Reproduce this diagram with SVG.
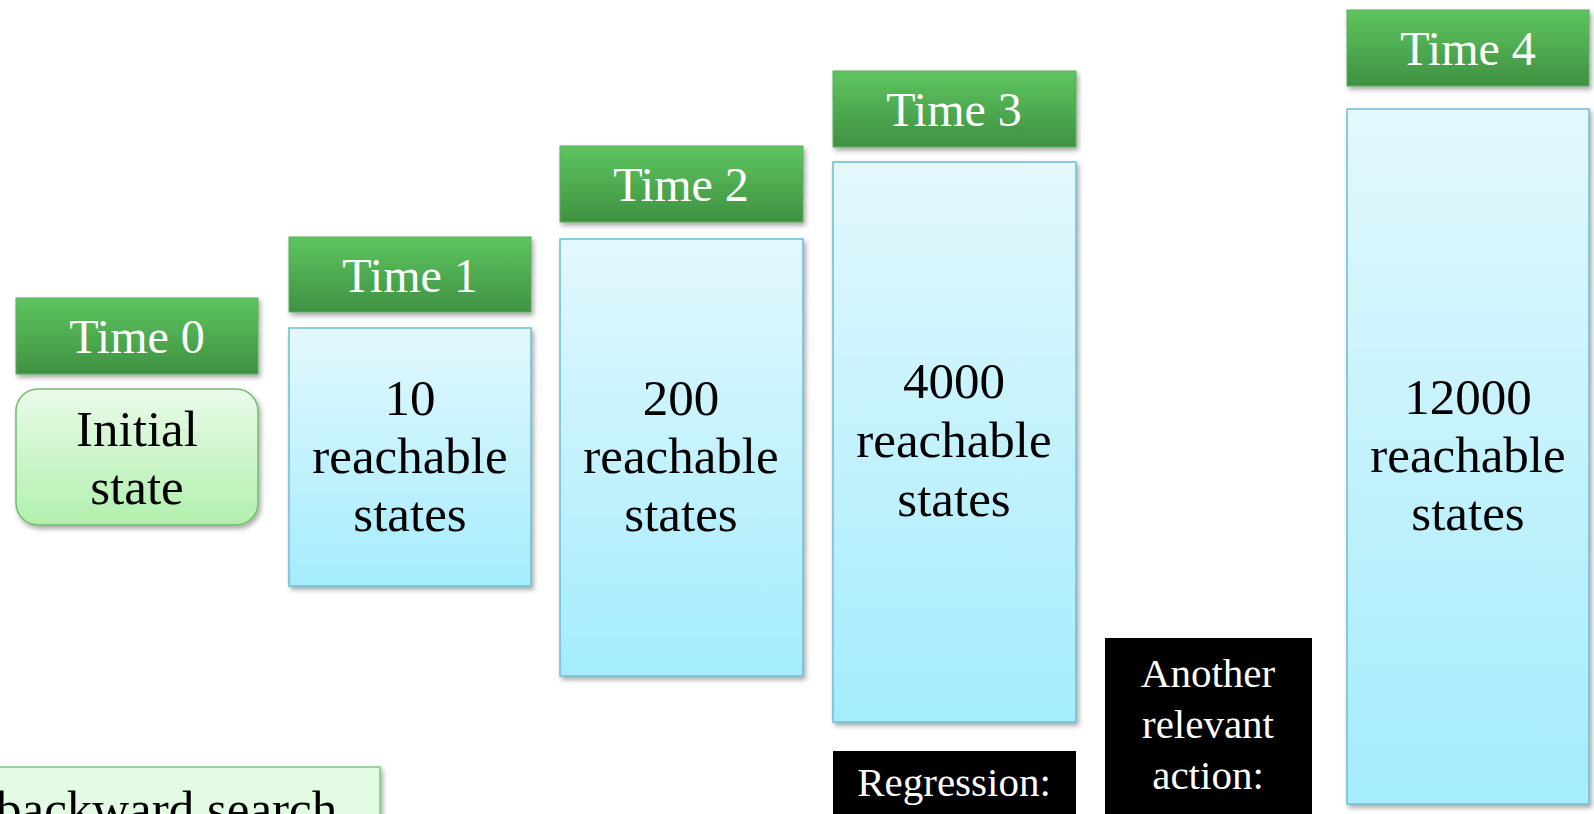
<svg xmlns="http://www.w3.org/2000/svg" width="1594" height="814" viewBox="0 0 1594 814">
  <style>
    .hdr { stroke: #5aae5a; stroke-width: 1; filter: url(#shadow); }
    .blue { fill: url(#gBlue); stroke: #6cbcd6; stroke-width: 1.5; filter: url(#shadow); }
    .init { fill: url(#gInit); stroke: #72bb70; stroke-width: 1.5; filter: url(#shadow); }
    .dark { fill: #000; }
    .ht { font-family: "Liberation Serif", "DejaVu Serif", serif; font-size: 48px; fill: #fff; text-anchor: middle; }
    .bt { font-family: "Liberation Serif", "DejaVu Serif", serif; font-size: 51px; fill: #000; text-anchor: middle; }
    .wt { font-family: "Liberation Serif", "DejaVu Serif", serif; font-size: 41px; fill: #fff; text-anchor: middle; }
  </style>
  <defs>
    <linearGradient id="gHdr" x1="0" y1="0" x2="0" y2="1">
      <stop offset="0" stop-color="#5ec560"/>
      <stop offset="1" stop-color="#3f9141"/>
    </linearGradient>
    <linearGradient id="gBlue" x1="0" y1="0" x2="0" y2="1">
      <stop offset="0" stop-color="#e3f8fd"/>
      <stop offset="1" stop-color="#a4ecfc"/>
    </linearGradient>
    <linearGradient id="gInit" x1="0" y1="0" x2="0" y2="1">
      <stop offset="0" stop-color="#eafbe9"/>
      <stop offset="1" stop-color="#b1f0ad"/>
    </linearGradient>
    <filter id="shadow" x="-10%" y="-10%" width="125%" height="125%">
      <feDropShadow dx="2" dy="3" stdDeviation="2.5" flood-color="#000" flood-opacity="0.35"/>
    </filter>
  </defs>

  <!-- connectors (none drawn) -->
  <g id="connectors"/>

  <!-- Time 0 column -->
  <g id="time0">
    <rect class="hdr" x="16" y="298" width="242" height="76" fill="url(#gHdr)"/>
    <text class="ht" x="137" y="353">Time 0</text>
  </g>
  <g id="initial-state">
    <rect class="init" x="16" y="389" width="242" height="136" rx="22" ry="22"/>
    <text class="bt" x="137" y="446">Initial</text>
    <text class="bt" x="137" y="504">state</text>
  </g>

  <!-- Time 1 column -->
  <g id="time1">
    <rect class="hdr" x="289" y="237" width="242" height="75" fill="url(#gHdr)"/>
    <text class="ht" x="410" y="292">Time 1</text>
  </g>
  <g id="states1">
    <rect class="blue" x="289" y="328" width="242" height="258"/>
    <text class="bt" x="410" y="415">10</text>
    <text class="bt" x="410" y="473">reachable</text>
    <text class="bt" x="410" y="531">states</text>
  </g>

  <!-- Time 2 column -->
  <g id="time2">
    <rect class="hdr" x="560" y="146" width="243" height="76" fill="url(#gHdr)"/>
    <text class="ht" x="681" y="201">Time 2</text>
  </g>
  <g id="states2">
    <rect class="blue" x="560" y="239" width="243" height="437"/>
    <text class="bt" x="681" y="415">200</text>
    <text class="bt" x="681" y="473">reachable</text>
    <text class="bt" x="681" y="531">states</text>
  </g>

  <!-- Time 3 column -->
  <g id="time3">
    <rect class="hdr" x="833" y="71" width="243" height="76" fill="url(#gHdr)"/>
    <text class="ht" x="954" y="126">Time 3</text>
  </g>
  <g id="states3">
    <rect class="blue" x="833" y="162" width="243" height="560"/>
    <text class="bt" x="954" y="398">4000</text>
    <text class="bt" x="954" y="457">reachable</text>
    <text class="bt" x="954" y="516">states</text>
  </g>
  <g id="regression">
    <rect class="dark" x="833" y="751" width="243" height="70"/>
    <text class="wt" x="954" y="796">Regression:</text>
  </g>

  <!-- relevant action label -->
  <g id="another-action">
    <rect class="dark" x="1105" y="638" width="207" height="180"/>
    <text class="wt" x="1208" y="687">Another</text>
    <text class="wt" x="1208" y="738">relevant</text>
    <text class="wt" x="1208" y="789">action:</text>
  </g>

  <!-- Time 4 column -->
  <g id="time4">
    <rect class="hdr" x="1347" y="10" width="242" height="76" fill="url(#gHdr)"/>
    <text class="ht" x="1468" y="65">Time 4</text>
  </g>
  <g id="states4">
    <rect class="blue" x="1347" y="109" width="242" height="695"/>
    <text class="bt" x="1468" y="414">12000</text>
    <text class="bt" x="1468" y="472">reachable</text>
    <text class="bt" x="1468" y="530">states</text>
  </g>

  <!-- backward search note, running off the bottom-left edge -->
  <g id="backward-search">
    <rect x="-20" y="767" width="400" height="70" fill="#e3fae3" stroke="#7cc97c" stroke-width="1.5" filter="url(#shadow)"/>
    <text class="bt" x="-4" y="826" text-anchor="start" style="text-anchor:start">backward search</text>
  </g>
</svg>
